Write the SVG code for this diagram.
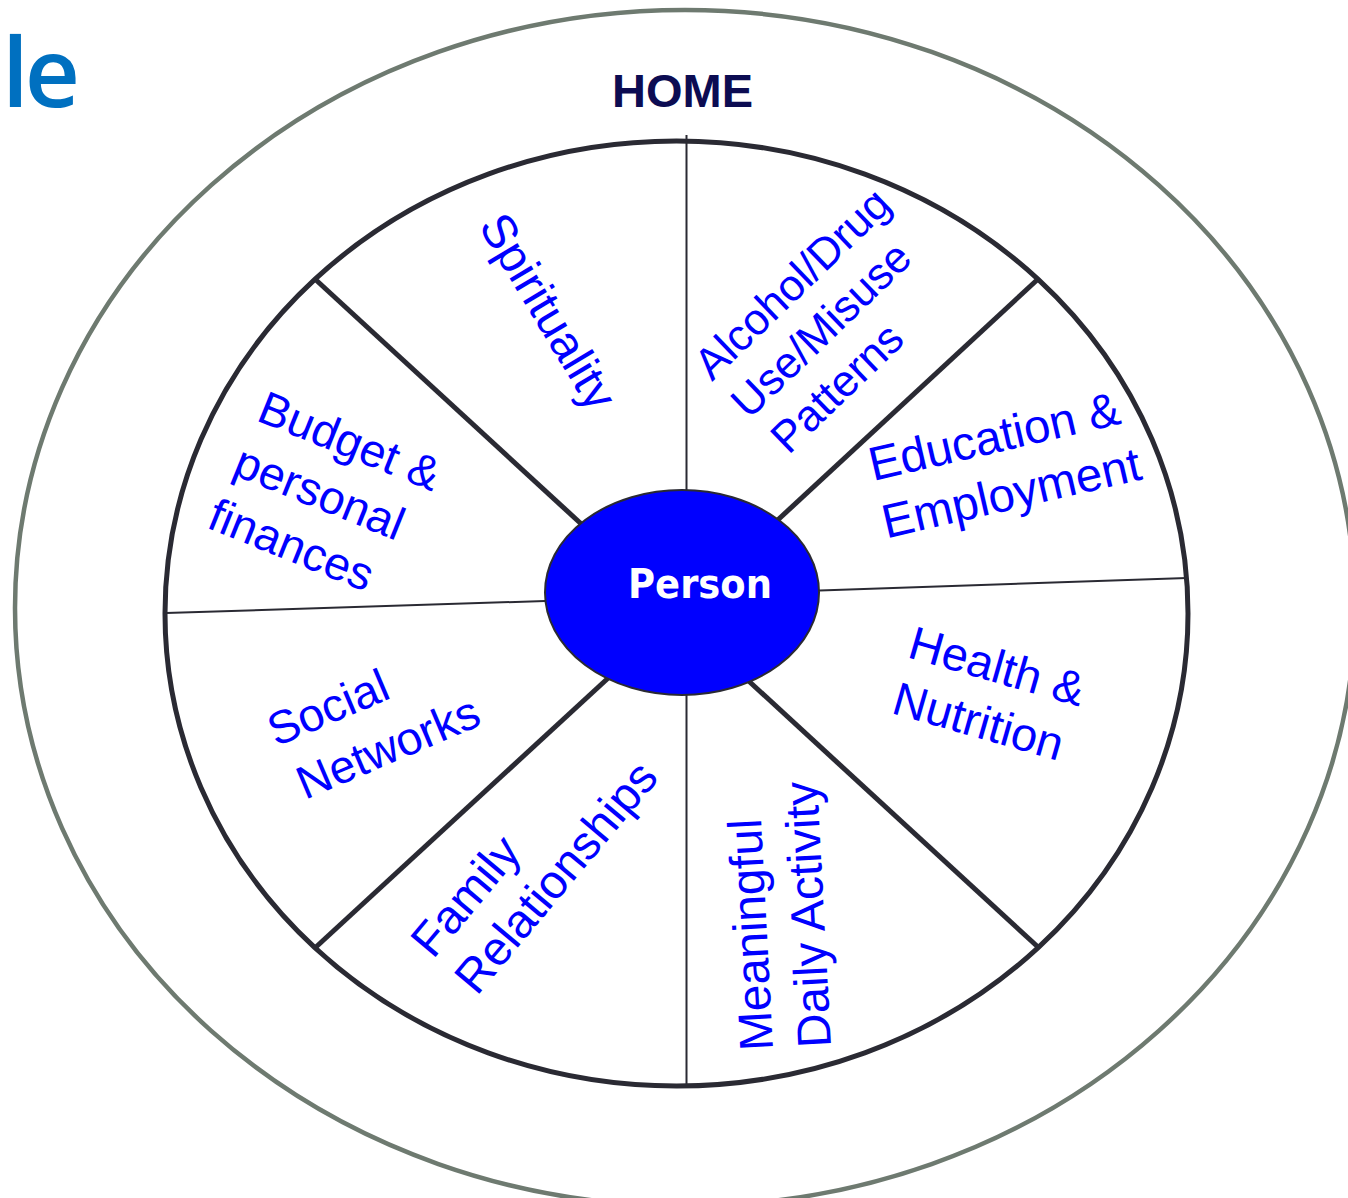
<svg xmlns="http://www.w3.org/2000/svg" width="1348" height="1198" viewBox="0 0 1348 1198">
<style>
.lbl{font-family:"Liberation Sans",Arial,sans-serif;fill:#0000ff;}
.thick{stroke:#2a2a33;stroke-width:5;fill:none;}
.thin{stroke:#2a2a33;stroke-width:2;fill:none;}
</style>
<rect x="0" y="0" width="1348" height="1198" fill="#ffffff"/>
<text id="title" x="2" y="107" font-family="'Open Sans','Noto Sans',sans-serif" font-weight="600" font-size="96" letter-spacing="-4" fill="#0070c0">le</text>
<g id="home">
<ellipse cx="685" cy="608" rx="670" ry="598" fill="none" stroke="#6e7a70" stroke-width="4.5"/>
<text x="682.5" y="107" text-anchor="middle" font-family="'Liberation Sans',Arial,sans-serif" font-weight="bold" font-size="47" fill="#0c0c52">HOME</text>
</g>
<g id="wheel">
<ellipse cx="676.5" cy="613.5" rx="511.5" ry="472.5" fill="#ffffff" class="thick"/>
</g>
<g id="connectors">
<line class="thin" x1="686.5" y1="135" x2="686.5" y2="500"/>
<line class="thin" x1="686.5" y1="690" x2="686.5" y2="1084"/>
<line class="thin" x1="166" y1="613" x2="560" y2="600.5"/>
<line class="thin" x1="805" y1="591" x2="1187" y2="578"/>
<line class="thick" x1="316" y1="280" x2="590" y2="532"/>
<line class="thick" x1="1037" y1="280" x2="768" y2="529"/>
<line class="thick" x1="316" y1="947" x2="618" y2="669"/>
<line class="thick" x1="1038" y1="947" x2="740" y2="673"/>
</g>
<g id="person">
<ellipse cx="682" cy="592.5" rx="137" ry="102.5" fill="#0000ff" stroke="#2a2a33" stroke-width="2"/>
<text x="700" y="598" text-anchor="middle" font-family="'DejaVu Sans Condensed','DejaVu Sans',sans-serif" font-weight="bold" font-size="41" fill="#ffffff">Person</text>
</g>
<g id="spirituality" transform="translate(478,226) rotate(59)">
<text class="lbl" font-size="47.5" x="0" y="0">Spirituality</text>
</g>
<g id="alcohol" transform="translate(712,382) rotate(-44)">
<text class="lbl" font-size="44" x="0" y="0">Alcohol/Drug<tspan x="0" dy="53">Use/Misuse</tspan><tspan x="4" dy="53">Patterns</tspan></text>
</g>
<g id="education" transform="translate(873,481) rotate(-13)">
<text class="lbl" font-size="47.5" x="0" y="0">Education &amp;<tspan x="0" dy="59">Employment</tspan></text>
</g>
<g id="health" transform="translate(906,657) rotate(16)">
<text class="lbl" font-size="47" x="0" y="0">Health &amp;<tspan x="0" dy="58">Nutrition</tspan></text>
</g>
<g id="meaningful" transform="translate(773,1050) rotate(-93)">
<text class="lbl" font-size="47.5" x="0" y="0">Meaningful<tspan x="0" dy="58">Daily Activity</tspan></text>
</g>
<g id="family" transform="translate(433,960) rotate(-50)">
<text class="lbl" font-size="47.5" x="0" y="0">Family<tspan x="0" dy="57">Relationships</tspan></text>
</g>
<g id="social" transform="translate(276,747) rotate(-23)">
<text class="lbl" font-size="46.5" x="0" y="0">Social<tspan x="6" dy="60">Networks</tspan></text>
</g>
<g id="budget" transform="translate(255,420) rotate(22)">
<text class="lbl" font-size="46.5" x="0" y="0">Budget &amp;<tspan x="-2" dy="59">personal</tspan><tspan x="-6" dy="59">finances</tspan></text>
</g>
</svg>
